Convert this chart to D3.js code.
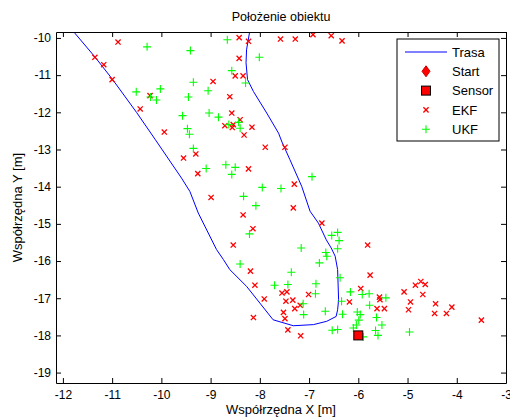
<!DOCTYPE html>
<html>
<head>
<meta charset="utf-8">
<script src="https://cdn.jsdelivr.net/npm/d3@7"></script>
<style>
  body { margin: 0; background: #fff; }
  svg { display: block; font-family: "Liberation Sans", Arial, sans-serif; }
</style>
</head>
<body>
<svg id="chart"></svg>
<script>
// trajectory (Trasa)
const trasa = [
    [-11.93, -9.6], [-11.35, -10.51], [-11.0, -11.10], [-10.50, -12.01], [-10.12, -12.74],
    [-9.59, -13.77], [-9.42, -14.13], [-9.25, -14.71], [-8.88, -15.69], [-8.74, -15.96],
    [-8.61, -16.23], [-8.27, -16.68], [-8.0, -17.13], [-7.73, -17.58], [-7.32, -17.74],
    [-6.91, -17.71], [-6.64, -17.62], [-6.45, -17.49], [-6.42, -17.31], [-6.40, -17.04],
    [-6.42, -16.23], [-6.47, -15.87], [-6.55, -15.65], [-6.65, -15.43], [-6.81, -14.98],
    [-6.98, -14.66], [-7.15, -13.99], [-7.39, -13.27], [-7.55, -12.80], [-7.62, -12.56],
    [-7.86, -12.02], [-8.13, -11.44], [-8.25, -11.12], [-8.28, -10.67], [-8.27, -10.32],
    [-8.20, -9.78], [-8.17, -9.6]
];

const ekf = [
    [-10.88, -10.11], [-11.35, -10.52], [-11.17, -10.72], [-11.0, -11.12], [-10.23, -11.55],
    [-10.43, -11.91], [-9.94, -12.53], [-8.95, -11.17], [-8.61, -11.58], [-8.50, -11.02],
    [-8.34, -11.02], [-8.42, -9.99], [-8.42, -10.55], [-8.23, -10.09], [-8.57, -12.02],
    [-8.40, -12.20], [-8.56, -12.41], [-8.71, -12.36], [-8.54, -12.33], [-8.32, -12.61],
    [-8.16, -12.40], [-7.58, -10.03], [-7.28, -10.03], [-6.92, -9.91], [-6.55, -9.94],
    [-6.33, -10.08], [-7.89, -12.94], [-7.49, -12.94], [-9.55, -13.23], [-9.30, -13.12],
    [-9.26, -13.65], [-8.99, -14.29], [-8.23, -13.52], [-8.34, -14.76], [-8.54, -15.57],
    [-7.30, -13.93], [-7.32, -14.57], [-8.14, -15.13], [-6.74, -14.98], [-5.81, -15.57],
    [-8.19, -16.27], [-8.10, -16.65], [-8.13, -17.52], [-7.91, -17.02], [-7.55, -16.86],
    [-7.45, -16.83], [-7.47, -17.08], [-7.33, -17.05], [-7.29, -17.28], [-7.18, -17.19],
    [-7.01, -16.90], [-7.52, -17.38], [-7.49, -17.55], [-7.43, -17.85], [-7.17, -18.01],
    [-5.76, -16.38], [-5.95, -16.74], [-6.18, -17.10], [-5.57, -16.97], [-5.56, -17.04],
    [-5.62, -17.28], [-5.47, -17.28], [-5.07, -16.83], [-4.94, -17.10], [-4.98, -17.31],
    [-4.84, -16.65], [-4.73, -16.55], [-4.64, -16.63], [-4.69, -16.90], [-4.43, -17.15],
    [-4.45, -17.41], [-4.21, -17.41], [-4.10, -17.24], [-3.50, -17.59]
];

const ukf = [
    [-10.29, -10.24], [-9.41, -10.34], [-8.66, -10.05], [-8.01, -10.52], [-8.57, -10.88],
    [-8.29, -11.21], [-10.51, -11.45], [-10.02, -11.37], [-10.22, -11.59], [-10.10, -11.67],
    [-9.35, -11.19], [-9.05, -11.42], [-9.45, -11.59], [-9.57, -12.09], [-9.03, -12.02],
    [-8.84, -12.13], [-9.47, -12.44], [-9.43, -12.59], [-8.63, -12.33], [-8.43, -12.27],
    [-8.40, -12.43], [-9.35, -12.97], [-9.09, -13.51], [-8.69, -13.41], [-8.50, -13.48],
    [-8.57, -13.67], [-8.33, -14.26], [-8.21, -15.27], [-8.40, -16.08], [-6.94, -13.73],
    [-7.95, -14.02], [-7.57, -14.05], [-8.08, -14.51], [-6.42, -15.23], [-6.54, -15.31],
    [-6.39, -15.45], [-6.42, -15.67], [-7.16, -15.65], [-6.66, -15.77], [-6.64, -15.87],
    [-7.36, -16.30], [-7.70, -16.65], [-7.43, -16.63], [-6.86, -16.61], [-6.87, -16.88],
    [-6.79, -16.05], [-7.12, -17.15], [-7.11, -17.44], [-6.67, -17.35], [-6.53, -17.86],
    [-6.42, -17.84], [-6.37, -16.45], [-6.34, -17.08], [-6.32, -17.43], [-6.16, -16.83],
    [-5.92, -16.90], [-5.78, -16.88], [-5.44, -16.99], [-5.77, -17.19], [-6.02, -17.37],
    [-5.96, -17.44], [-5.99, -17.59], [-6.04, -17.72], [-6.10, -17.80], [-5.63, -17.52],
    [-5.52, -17.72], [-5.65, -17.87], [-5.60, -18.0], [-5.90, -18.04], [-4.96, -17.91]
];

const start = [[-11.93, -9.6]];
const sensor = [[-6, -18]];

const xTicks = [-12, -11, -10, -9, -8, -7, -6, -5, -4, -3];
const yTicks = [-19, -18, -17, -16, -15, -14, -13, -12, -11, -10];
const legendLabels = ["Trasa", "Start", "Sensor", "EKF", "UKF"];

(function () {
    const width = 510, height = 419;
    const pLeft = 56, pRight = 506, pTop = 32, pBottom = 383;

    const svg = d3.select("#chart")
        .attr("width", width)
        .attr("height", height);

    svg.append("rect").attr("width", width).attr("height", height).attr("fill", "#fff");

    const x = d3.scaleLinear().domain([-12.14, -3]).range([pLeft, pRight]);
    const y = d3.scaleLinear().domain([-19.28, -9.84]).range([pBottom, pTop]);

    svg.append("defs").append("clipPath").attr("id", "plot-clip")
        .append("rect")
        .attr("x", pLeft).attr("y", pTop)
        .attr("width", pRight - pLeft).attr("height", pBottom - pTop);

    const plot = svg.append("g").attr("clip-path", "url(#plot-clip)");

    // marker shapes
    const xMark = s => `M${-s},${-s}L${s},${s}M${-s},${s}L${s},${-s}`;
    const plusMark = s => `M${-s},0L${s},0M0,${-s}L0,${s}`;
    const diamond = (w, h) => `M0,${-h}L${w},0L0,${h}L${-w},0Z`;

    plot.append("path")
        .datum(trasa)
        .attr("d", d3.line().x(d => x(d[0])).y(d => y(d[1])))
        .attr("fill", "none")
        .attr("stroke", "#0000ff")
        .attr("stroke-width", 1);

    plot.selectAll("path.ekf")
        .data(ekf)
        .enter()
        .append("path")
        .attr("class", "ekf")
        .attr("transform", d => `translate(${x(d[0])},${y(d[1])})`)
        .attr("d", xMark(2.6))
        .attr("stroke", "#ff0000")
        .attr("stroke-width", 1.3)
        .attr("fill", "none");

    plot.selectAll("path.ukf")
        .data(ukf)
        .enter()
        .append("path")
        .attr("class", "ukf")
        .attr("transform", d => `translate(${x(d[0])},${y(d[1])})`)
        .attr("d", plusMark(4))
        .attr("stroke", "#00ff00")
        .attr("stroke-width", 1.1)
        .attr("fill", "none");

    plot.selectAll("path.start")
        .data(start)
        .enter()
        .append("path")
        .attr("class", "start")
        .attr("transform", d => `translate(${x(d[0])},${y(d[1])})`)
        .attr("d", diamond(4, 5.5))
        .attr("fill", "#ff0000")
        .attr("stroke", "#cc0000");

    plot.selectAll("rect.sensor")
        .data(sensor)
        .enter()
        .append("rect")
        .attr("class", "sensor")
        .attr("x", d => x(d[0]) - 4.5)
        .attr("y", d => y(d[1]) - 4.5)
        .attr("width", 9).attr("height", 9)
        .attr("fill", "#ff0000")
        .attr("stroke", "#000")
        .attr("stroke-width", 1);

    // axes
    const fmt = d => String(d);
    const axisStyle = g => {
        g.selectAll("path.domain").attr("stroke", "#000");
        g.selectAll(".tick line").attr("stroke", "#000");
        g.selectAll("text").attr("fill", "#000").attr("font-size", 12)
            .attr("font-family", '"Liberation Sans", Arial, sans-serif');
    };

    svg.append("g")
        .attr("transform", `translate(0,${pBottom})`)
        .call(d3.axisBottom(x).tickValues(xTicks).tickFormat(fmt).tickSizeInner(-5).tickSizeOuter(0).tickPadding(7))
        .call(axisStyle);

    svg.append("g")
        .attr("transform", `translate(0,${pTop})`)
        .call(d3.axisTop(x).tickValues(xTicks).tickFormat("").tickSizeInner(-5).tickSizeOuter(0))
        .call(axisStyle);

    svg.append("g")
        .attr("transform", `translate(${pLeft},0)`)
        .call(d3.axisLeft(y).tickValues(yTicks).tickFormat(fmt).tickSizeInner(-5).tickSizeOuter(0).tickPadding(5))
        .call(axisStyle);

    svg.append("g")
        .attr("transform", `translate(${pRight},0)`)
        .call(d3.axisRight(y).tickValues(yTicks).tickFormat("").tickSizeInner(-5).tickSizeOuter(0))
        .call(axisStyle);

    // titles
    svg.append("text")
        .attr("x", (pLeft + pRight) / 2).attr("y", 21)
        .attr("text-anchor", "middle")
        .attr("font-size", 12.5)
        .text("Położenie obiektu");

    svg.append("text")
        .attr("x", (pLeft + pRight) / 2).attr("y", 414)
        .attr("text-anchor", "middle")
        .attr("font-size", 13)
        .text("Współrzędna X [m]");

    svg.append("text")
        .attr("transform", `translate(22,${(pTop + pBottom) / 2}) rotate(-90)`)
        .attr("text-anchor", "middle")
        .attr("font-size", 13)
        .text("Współrzędna Y [m]");

    // legend
    const legend = svg.append("g");
    legend.append("rect")
        .attr("x", 397).attr("y", 39)
        .attr("width", 102).attr("height", 102)
        .attr("fill", "#fff")
        .attr("stroke", "#000");

    const rowY = i => 52 + i * 19.3;
    const rows = legend.selectAll("g.row")
        .data(legendLabels)
        .enter()
        .append("g")
        .attr("class", "row")
        .attr("transform", (d, i) => `translate(0,${rowY(i)})`);

    rows.append("text")
        .attr("x", 452).attr("dy", "0.36em")
        .attr("font-size", 13)
        .text(d => d);

    rows.each(function (d) {
        const g = d3.select(this);
        if (d === "Trasa") {
            g.append("line").attr("x1", 405).attr("x2", 447)
                .attr("stroke", "#0000ff").attr("stroke-width", 1);
        } else if (d === "Start") {
            g.append("path").attr("transform", "translate(426,0)")
                .attr("d", diamond(4, 5.5)).attr("fill", "#ff0000").attr("stroke", "#cc0000");
        } else if (d === "Sensor") {
            g.append("rect").attr("x", 421.5).attr("y", -4.5).attr("width", 9).attr("height", 9)
                .attr("fill", "#ff0000").attr("stroke", "#000");
        } else if (d === "EKF") {
            g.append("path").attr("transform", "translate(426,0)")
                .attr("d", xMark(2.6)).attr("stroke", "#ff0000").attr("stroke-width", 1.3).attr("fill", "none");
        } else {
            g.append("path").attr("transform", "translate(426,0)")
                .attr("d", plusMark(4)).attr("stroke", "#00ff00").attr("stroke-width", 1.1).attr("fill", "none");
        }
    });
})();
</script>
</body>
</html>
